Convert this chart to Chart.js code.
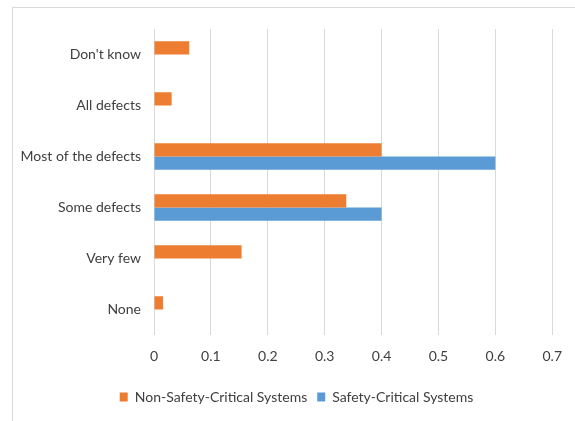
<!DOCTYPE html>
<html>
<head>
<meta charset="utf-8">
<script src="https://cdn.jsdelivr.net/npm/chart.js@4.4.1/dist/chart.umd.min.js"></script>
<style>
  html, body { margin: 0; padding: 0; background: #fff; }
  #wrap { position: relative; width: 575px; height: 421px; }
  #frame { position: absolute; left: 12px; top: 7px; right: 0; bottom: 0; border-left: 1px solid #d9d9d9; border-top: 1px solid #d9d9d9; }
  canvas { position: absolute; left: 0; top: 0; }
</style>
</head>
<body>
<div id="wrap">
  <div id="frame"></div>
  <canvas id="chart" width="575" height="421"></canvas>
</div>
<script>
// Answer categories, top to bottom
const categories = ["Don't know", "All defects", "Most of the defects", "Some defects", "Very few", "None"];
const nonSafety = [0.062, 0.031, 0.40, 0.338, 0.154, 0.016];
const safety    = [0, 0, 0.60, 0.40, 0, 0];
const xTicks = [0, 0.1, 0.2, 0.3, 0.4, 0.5, 0.6, 0.7];

const FONT = "Lato, 'Open Sans', sans-serif";
const TEXT = "#404040";

// nudge the legend a bit right, like the original
const legendShift = {
  id: "legendShift",
  afterLayout: (chart) => {
    chart.legend.left += 20;
    chart.legend.right += 20;
  },
};

new Chart(document.getElementById("chart"), {
  type: "bar",
  data: {
    labels: categories,
    datasets: [
      {label: "Non-Safety-Critical Systems", data: nonSafety, backgroundColor: "#ED7D31", borderWidth: 0},
      {label: "Safety-Critical Systems", data: safety, backgroundColor: "#5B9BD5", borderWidth: 0},
    ],
  },
  options: {
    indexAxis: "y",
    responsive: false,
    animation: false,
    devicePixelRatio: 1,
    categoryPercentage: 0.52,
    barPercentage: 1,
    layout: { padding: { top: 29, right: 22, left: 0, bottom: 7 } },
    plugins: {
      tooltip: { enabled: false },
      legend: {
        position: "bottom",
        labels: { boxWidth: 8, boxHeight: 9, padding: 10, color: TEXT, font: { size: 14, family: FONT } },
      },
    },
    scales: {
      x: {
        min: 0, max: 0.7,
        afterBuildTicks: (s) => { s.ticks = xTicks.map(v => ({value: v})); },
        afterFit: (s) => { s.height = 45; },
        ticks: { color: TEXT, padding: 13, font: { size: 14, family: FONT }, callback: (v) => String(v) },
        grid: { color: "#d9d9d9", drawTicks: false },
        border: { display: false },
      },
      y: {
        afterFit: (s) => { s.width = 154; },
        ticks: { color: TEXT, padding: 13, font: { size: 14, family: FONT } },
        grid: { display: false, drawTicks: false },
        border: { display: false },
      },
    },
  },
  plugins: [legendShift],
});
</script>
</body>
</html>
